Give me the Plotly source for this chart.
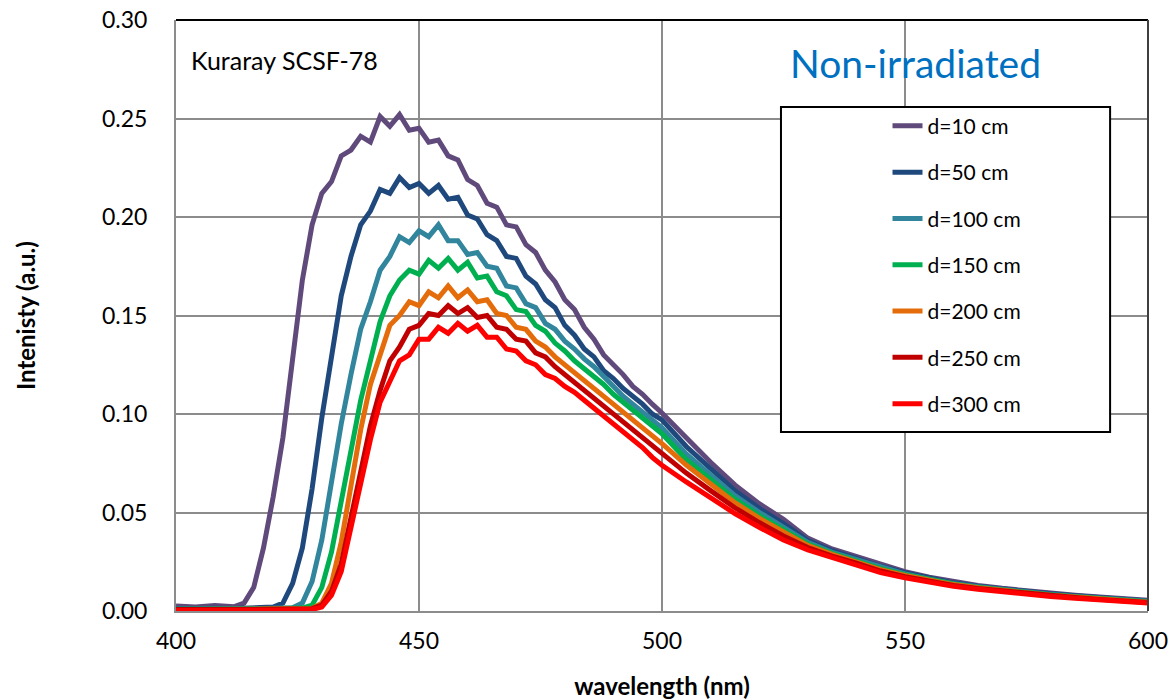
import plotly.graph_objects as go

# ---------------- data ----------------
wavelength = [400, 404, 408, 412,
              414, 416, 418, 420, 422, 424, 426, 428, 430, 432, 434, 436, 438, 440, 442, 444,
              446, 448, 450, 452, 454, 456, 458, 460, 462, 464, 466, 468, 470, 472, 474, 476,
              478, 480, 482, 484, 486, 488, 490, 492, 494, 496, 498, 500,
              505, 510, 515, 520, 525, 530, 535, 540, 545, 550, 555, 560, 565, 570, 575, 580,
              585, 590, 595, 600]

series_names = ["d=10 cm", "d=50 cm", "d=100 cm", "d=150 cm", "d=200 cm", "d=250 cm", "d=300 cm"]
series_colors = ["#604A7B", "#1F497D", "#31859C", "#00B050", "#E46C0A", "#C00000", "#FF0000"]

d10 = [0.0025, 0.002, 0.0028, 0.0022,
       0.004, 0.012, 0.032, 0.058, 0.088, 0.13, 0.168, 0.196, 0.212, 0.218, 0.231, 0.234, 0.241, 0.238, 0.251, 0.246,
       0.252, 0.244, 0.245, 0.238, 0.239, 0.231, 0.229, 0.219, 0.216, 0.207, 0.205, 0.196, 0.195, 0.186, 0.182, 0.173,
       0.167, 0.158, 0.153, 0.144, 0.138, 0.13, 0.125, 0.12, 0.114, 0.11, 0.105, 0.1005,
       0.088, 0.0755, 0.064, 0.0545, 0.0465, 0.037, 0.0315, 0.0275, 0.0235, 0.020, 0.0172, 0.0148, 0.013, 0.0115, 0.0102, 0.009,
       0.008, 0.0071, 0.0062, 0.0054]

d50 = [0.0012, 0.001, 0.0014, 0.0013,
       0.0015, 0.0016, 0.0017, 0.002, 0.004, 0.014, 0.032, 0.062, 0.098, 0.128, 0.16, 0.18, 0.196, 0.203, 0.214, 0.212,
       0.22, 0.215, 0.217, 0.212, 0.216, 0.209, 0.21, 0.201, 0.199, 0.191, 0.188, 0.18, 0.179, 0.17, 0.166, 0.158,
       0.154, 0.145, 0.14, 0.133, 0.129, 0.122, 0.118, 0.113, 0.109, 0.105, 0.1, 0.097,
       0.0835, 0.072, 0.0611, 0.0521, 0.0444, 0.0358, 0.0306, 0.0267, 0.0227, 0.0194, 0.0167, 0.0143, 0.0126, 0.0111, 0.0099, 0.0087,
       0.0077, 0.0068, 0.0059, 0.0051]

d100 = [0.001, 0.0008, 0.0011, 0.001,
        0.001, 0.0012, 0.0011, 0.0013, 0.0014, 0.0016, 0.004, 0.015, 0.036, 0.066, 0.095, 0.12, 0.143, 0.157, 0.173, 0.18,
        0.19, 0.187, 0.193, 0.19, 0.196, 0.188, 0.188, 0.181, 0.182, 0.175, 0.174, 0.165, 0.164, 0.156, 0.154, 0.146,
        0.143, 0.137, 0.133, 0.128, 0.124, 0.119, 0.114, 0.109, 0.105, 0.101, 0.097, 0.093,
        0.0797, 0.0688, 0.0586, 0.0501, 0.0426, 0.0348, 0.0298, 0.026, 0.022, 0.0188, 0.0162, 0.0139, 0.0123, 0.0108, 0.0096, 0.0084,
        0.0074, 0.0065, 0.0057, 0.0049]

d150 = [0.0009, 0.0008, 0.001, 0.0009,
        0.001, 0.001, 0.0011, 0.0012, 0.0012, 0.0013, 0.0015, 0.003, 0.012, 0.03, 0.055, 0.083, 0.107, 0.127, 0.147, 0.16,
        0.168, 0.173, 0.171, 0.178, 0.174, 0.179, 0.173, 0.177, 0.169, 0.17, 0.162, 0.16, 0.153, 0.152, 0.145, 0.142,
        0.136, 0.132, 0.127, 0.123, 0.119, 0.115, 0.11, 0.106, 0.102, 0.098, 0.094, 0.09,
        0.0768, 0.0665, 0.0568, 0.0485, 0.0413, 0.034, 0.0293, 0.0255, 0.0215, 0.0184, 0.0159, 0.0137, 0.012, 0.0106, 0.0094, 0.0082,
        0.0073, 0.0064, 0.0055, 0.0047]

d200 = [0.0008, 0.0007, 0.0009, 0.0008,
        0.0009, 0.0009, 0.001, 0.001, 0.0011, 0.0011, 0.0012, 0.0013, 0.004, 0.014, 0.035, 0.063, 0.092, 0.115, 0.131, 0.145,
        0.15, 0.157, 0.155, 0.162, 0.159, 0.165, 0.159, 0.163, 0.157, 0.158, 0.151, 0.15, 0.144, 0.143, 0.137, 0.134,
        0.129, 0.125, 0.121, 0.117, 0.113, 0.109, 0.105, 0.101, 0.097, 0.093, 0.089, 0.085,
        0.0741, 0.0643, 0.055, 0.0471, 0.04, 0.0333, 0.0287, 0.025, 0.021, 0.018, 0.0155, 0.0134, 0.0118, 0.0104, 0.0091, 0.008,
        0.0071, 0.0062, 0.0053, 0.0045]

d250 = [0.0007, 0.0006, 0.0008, 0.0007,
        0.0008, 0.0008, 0.0009, 0.0009, 0.001, 0.001, 0.0011, 0.0012, 0.003, 0.01, 0.024, 0.047, 0.072, 0.094, 0.112, 0.127,
        0.134, 0.143, 0.145, 0.151, 0.15, 0.155, 0.151, 0.154, 0.149, 0.15, 0.144, 0.143, 0.138, 0.137, 0.131, 0.129,
        0.124, 0.12, 0.116, 0.112, 0.108, 0.104, 0.1, 0.096, 0.092, 0.088, 0.084, 0.0805,
        0.07, 0.0611, 0.0524, 0.0449, 0.0381, 0.0322, 0.0279, 0.0243, 0.0203, 0.0174, 0.015, 0.013, 0.0114, 0.0101, 0.0088, 0.0077,
        0.0068, 0.0059, 0.0051, 0.0043]

d300 = [0.0003, 0.0002, 0.0003, 0.0002,
        0.0003, 0.0003, 0.0004, 0.0004, 0.0005, 0.0005, 0.0006, 0.0008, 0.002, 0.008, 0.02, 0.042, 0.066, 0.087, 0.106, 0.116,
        0.127, 0.13, 0.138, 0.138, 0.144, 0.141, 0.146, 0.142, 0.145, 0.139, 0.139, 0.133, 0.132, 0.127, 0.125, 0.12,
        0.118, 0.114, 0.111, 0.107, 0.103, 0.099, 0.095, 0.091, 0.087, 0.083, 0.078, 0.074,
        0.0655, 0.0575, 0.0495, 0.0425, 0.036, 0.031, 0.027, 0.0235, 0.0195, 0.0168, 0.0145, 0.0125, 0.011, 0.0097, 0.0085, 0.0074,
        0.0065, 0.0056, 0.0048, 0.004]

series_values = [d10, d50, d100, d150, d200, d250, d300]

x_ticks = [400, 450, 500, 550, 600]
y_ticks = [0.00, 0.05, 0.10, 0.15, 0.20, 0.25, 0.30]

# ---------------- figure ----------------
FONT = "Lato"
fig = go.Figure()
for i, (name, color, vals) in enumerate(zip(series_names, series_colors, series_values)):
    fig.add_trace(go.Scatter(
        x=wavelength, y=vals, mode="lines", name=name,
        legendgroup=f"g{i}",
        line=dict(color=color, width=5, shape="linear"),
    ))

grid_col = "#8C8C8C"
fig.update_layout(
    width=1170, height=700,
    margin=dict(l=176, r=22, t=20, b=89),
    paper_bgcolor="white", plot_bgcolor="white",
    font=dict(family=FONT, color="black", size=20),
    showlegend=True,
    legend=dict(
        x=0.732, y=0.855, xanchor="left", yanchor="top",
        bgcolor="rgba(0,0,0,0)", borderwidth=0,
        font=dict(family=FONT, size=21, color="black"),
        tracegroupgap=16,
        itemwidth=30,
    ),
    xaxis=dict(
        range=[400, 600], tickvals=x_ticks, ticktext=[str(v) for v in x_ticks],
        showgrid=True, gridcolor=grid_col, gridwidth=2,
        showline=True, linecolor=grid_col, linewidth=2,
        ticks="", zeroline=False, automargin=False,
        ticklabelstandoff=8, ticklabeloverflow="allow",
        tickfont=dict(family=FONT, size=23),
        title=dict(text="<b>wavelength (nm)</b>", font=dict(family=FONT, size=24), standoff=27),
    ),
    yaxis=dict(
        range=[0, 0.30], tickvals=y_ticks, ticktext=[f"{v:.2f}" for v in y_ticks],
        showgrid=True, gridcolor=grid_col, gridwidth=2,
        showline=True, linecolor=grid_col, linewidth=2,
        ticks="", zeroline=False, automargin=False,
        ticklabelstandoff=22, ticklabeloverflow="allow",
        tickfont=dict(family=FONT, size=23),
        title=dict(text="<b>Intenisty (a.u.)</b>", font=dict(family=FONT, size=24), standoff=60),
    ),
    shapes=[
        dict(type="line", xref="paper", yref="paper", x0=0, x1=1, y0=1, y1=1,
             line=dict(color="black", width=2)),
        dict(type="line", xref="paper", yref="paper", x0=1, x1=1, y0=0, y1=1,
             line=dict(color="#404040", width=2)),
        dict(type="rect", xref="paper", yref="paper", x0=0.6224, x1=0.961, y0=0.3029, y1=0.8528,
             line=dict(color="black", width=2), fillcolor="white", layer="above"),
    ],
    annotations=[
        dict(text="Kuraray SCSF-78", xref="paper", yref="paper", x=0.013, y=0.932,
             xanchor="left", yanchor="middle", showarrow=False,
             font=dict(family=FONT, size=25, color="black")),
        dict(text="Non-irradiated", xref="paper", yref="paper", x=0.761, y=0.927,
             xanchor="center", yanchor="middle", showarrow=False,
             font=dict(family=FONT, size=39, color="#0070C0")),
    ],
)

fig.write_html(
    "out.html",
    config={"displayModeBar": False},
    post_script="document.body.style.margin='0';document.body.style.overflow='hidden';",
)
